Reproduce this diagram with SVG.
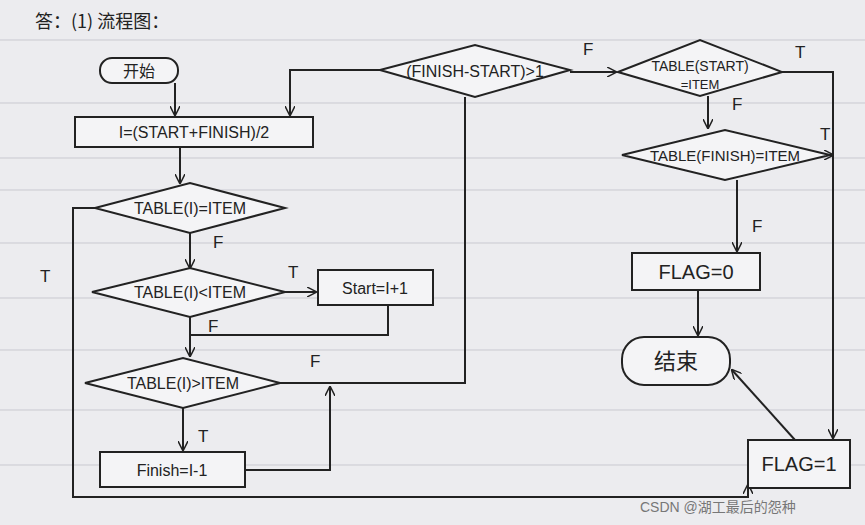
<svg xmlns="http://www.w3.org/2000/svg" width="865" height="525" viewBox="0 0 865 525">
<defs>
<marker id="ah" markerWidth="10" markerHeight="10" refX="9" refY="5" orient="auto" markerUnits="userSpaceOnUse"><path d="M0,0 L10,5 L0,10" fill="none" stroke="#222" stroke-width="1.5"/></marker>
</defs>
<style>
.s{fill:none;stroke:#222;stroke-width:2}
.n{fill:#f4f4f6;stroke:#222;stroke-width:2}
.t{font-family:"Liberation Sans","Noto Sans CJK SC",sans-serif;font-size:16px;fill:#222;text-anchor:middle;dominant-baseline:central}
.l{font-family:"Liberation Sans",sans-serif;font-size:17px;fill:#222}
.c line,.c path,.c polyline{fill:none;stroke:#222;stroke-width:2}
</style>
<rect width="865" height="525" fill="#ececef"/>
<g stroke="#c9c9d0" stroke-width="1">
<line x1="0" y1="40" x2="865" y2="40"/><line x1="0" y1="103" x2="865" y2="103"/><line x1="0" y1="158" x2="865" y2="158"/><line x1="0" y1="190" x2="865" y2="190"/><line x1="0" y1="243" x2="865" y2="243"/><line x1="0" y1="298" x2="865" y2="298"/><line x1="0" y1="350" x2="865" y2="350"/><line x1="0" y1="410" x2="865" y2="410"/><line x1="0" y1="465" x2="865" y2="465"/>
</g>
<text x="35" y="28" class="l" style="font-family:'Noto Sans CJK SC',sans-serif;font-size:18px">答：(1) 流程图：</text>
<g class="c">
<line x1="175" y1="83" x2="175" y2="115" marker-end="url(#ah)"/>
<line x1="180" y1="147" x2="180" y2="183" marker-end="url(#ah)"/>
<line x1="190" y1="233" x2="190" y2="268" marker-end="url(#ah)"/>
<polyline points="95,208 73,208 73,497 748,497 748,485" marker-end="url(#ah)"/>
<line x1="285" y1="292" x2="316" y2="292" marker-end="url(#ah)"/>
<polyline points="388,305 388,335 190,335"/>
<line x1="190" y1="317" x2="190" y2="356" marker-end="url(#ah)"/>
<line x1="183" y1="408" x2="183" y2="450" marker-end="url(#ah)"/>
<polyline points="280,383 465,383 465,97"/>
<polyline points="245,470 330,470 330,387" marker-end="url(#ah)"/>
<polyline points="380,70 290,70 290,115" marker-end="url(#ah)"/>
<line x1="570" y1="72" x2="616" y2="72" marker-end="url(#ah)"/>
<polyline points="782,72 833,72 833,438" marker-end="url(#ah)"/>
<line x1="708" y1="96" x2="708" y2="128" marker-end="url(#ah)"/>
<line x1="820" y1="155" x2="833" y2="155" marker-end="url(#ah)"/>
<line x1="737" y1="180" x2="737" y2="251" marker-end="url(#ah)"/>
<line x1="698" y1="290" x2="698" y2="335" marker-end="url(#ah)"/>
<line x1="795" y1="440" x2="732" y2="370" marker-end="url(#ah)"/>
</g>
<g class="l">
<text x="213" y="248">F</text><text x="40" y="282">T</text><text x="288" y="278">T</text><text x="208" y="332">F</text>
<text x="198" y="442">T</text><text x="310" y="367">F</text><text x="583" y="55">F</text><text x="795" y="58">T</text>
<text x="732" y="110">F</text><text x="820" y="140">T</text><text x="752" y="232">F</text>
</g>
<g id="start"><rect class="n" x="100" y="58" width="78" height="25" rx="12"/><text class="t" x="139" y="71">开始</text></g>
<g id="calc"><rect class="n" x="75" y="117" width="238" height="30"/><text class="t" x="194" y="132">I=(START+FINISH)/2</text></g>
<g id="d1"><polygon class="n" points="95,208 190,183 285,208 190,233"/><text class="t" x="190" y="208">TABLE(I)=ITEM</text></g>
<g id="d2"><polygon class="n" points="92,292 190,268 285,292 190,317"/><text class="t" x="190" y="292">TABLE(I)&lt;ITEM</text></g>
<g id="s1"><rect class="n" x="318" y="270" width="115" height="35"/><text class="t" x="375" y="288">Start=I+1</text></g>
<g id="d3"><polygon class="n" points="85,383 183,358 280,383 183,408"/><text class="t" x="183" y="383">TABLE(I)&gt;ITEM</text></g>
<g id="f1"><rect class="n" x="100" y="452" width="145" height="35"/><text class="t" x="172" y="470">Finish=I-1</text></g>
<g id="d4"><polygon class="n" points="380,70 475,45 570,70 475,97"/><text class="t" x="475" y="71">(FINISH-START)&gt;1</text></g>
<g id="d5"><polygon class="n" points="618,72 700,40 782,72 700,96"/><text class="t" x="700" y="66" style="font-size:14px">TABLE(START)</text><text class="t" x="700" y="84" style="font-size:13px">=ITEM</text></g>
<g id="d6"><polygon class="n" points="622,155 725,130 830,155 725,180"/><text class="t" x="725" y="155" style="font-size:15px">TABLE(FINISH)=ITEM</text></g>
<g id="flag0"><rect class="n" x="632" y="253" width="128" height="37"/><text class="t" x="696" y="272" style="font-size:20px">FLAG=0</text></g>
<g id="end"><rect class="n" x="622" y="337" width="108" height="48" rx="22"/><text class="t" x="676" y="361" style="font-size:22px">结束</text></g>
<g id="flag1"><rect class="n" x="748" y="440" width="102" height="48"/><text class="t" x="799" y="464" style="font-size:20px">FLAG=1</text></g>
<text x="640" y="512" style="font-family:'Liberation Sans','Noto Sans CJK SC',sans-serif;font-size:14px;fill:#777">CSDN @湖工最后的怨种</text>
</svg>
